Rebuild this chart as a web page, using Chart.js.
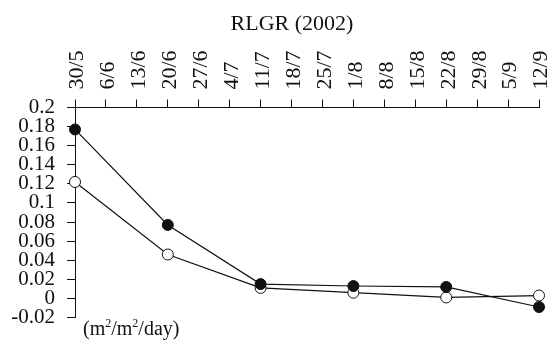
<!DOCTYPE html>
<html>
<head>
<meta charset="utf-8">
<script src="https://cdn.jsdelivr.net/npm/chart.js@4/dist/chart.umd.min.js"></script>
<style>
  html, body { margin: 0; padding: 0; background: #fff; }
  #wrap { position: relative; width: 553px; height: 343px; }
  #title { position: absolute; left: 172px; width: 240px; top: 10px; text-align: center; font: 22px "Liberation Serif", serif; color: #111; line-height: 26px; }
  #unit { position: absolute; left: 83px; top: 316px; font: 20px "Liberation Serif", serif; color: #111; line-height: 24px; }
  #unit sup { font-size: 12px; vertical-align: 8px; line-height: 0; }
</style>
</head>
<body>
<div id="wrap">
  <canvas id="c" width="553" height="343"></canvas>
  <div id="title">RLGR (2002)</div>
  <div id="unit">(m<sup>2</sup>/m<sup>2</sup>/day)</div>
</div>
<script>
  // วันที่วัด (แกนบน)
  const dates = ['30/5', '6/6', '13/6', '20/6', '27/6', '4/7', '11/7', '18/7', '25/7', '1/8', '8/8', '15/8', '22/8', '29/8', '5/9', '12/9'];
  // ค่าที่อ่านจากภาพ — null = ไม่มีการวัด
  const filledSeries = [0.177, null, null, 0.077, null, null, 0.015, null, null, 0.013, null, null, 0.012, null, null, -0.009];
  const openSeries   = [0.122, null, null, 0.046, null, null, 0.011, null, null, 0.006, null, null, 0.001, null, null, 0.003];
  const yMin = -0.02, yMax = 0.2, yStep = 0.02;

  const FONT = 'Liberation Serif';

  new Chart(document.getElementById('c').getContext('2d'), {
    type: 'line',
    data: {
      labels: dates,
      datasets: [
        { data: filledSeries, borderColor: '#111', borderWidth: 1.2, backgroundColor: '#111',
          pointRadius: 5.5, pointBorderWidth: 1, pointBorderColor: '#111', spanGaps: true, tension: 0 },
        { data: openSeries, borderColor: '#111', borderWidth: 1.2, backgroundColor: '#fff',
          pointRadius: 5.5, pointBorderWidth: 1, pointBorderColor: '#111', spanGaps: true, tension: 0 },
      ],
    },
    options: {
      responsive: false,
      animation: false,
      layout: { padding: { left: 0, right: 14, top: 50.5, bottom: 25.5 } },
      plugins: {
        legend: { display: false },
        tooltip: { enabled: false },
        title: { display: false },
      },
      scales: {
        x: {
          position: 'top',
          offset: false,
          grid: { drawOnChartArea: false, tickLength: 8, color: '#111' },
          border: { color: '#111', width: 1 },
          ticks: { color: '#111', font: { family: FONT, size: 22 }, maxRotation: 90, minRotation: 90, autoSkip: false, padding: 10, labelOffset: 29 },
          afterFit: function (s) { s.height = 57; },
        },
        y: {
          min: yMin, max: yMax,
          grid: { drawOnChartArea: false, tickLength: 8, color: '#111' },
          border: { color: '#111', width: 1 },
          ticks: {
            stepSize: yStep, color: '#111', font: { family: FONT, size: 21 }, padding: 12, autoSkip: false,
            callback: function (v) { return String(Math.round(v * 100) / 100); },
          },
          afterFit: function (s) { s.width = 75; },
        },
      },
    },
  });
</script>
</body>
</html>
